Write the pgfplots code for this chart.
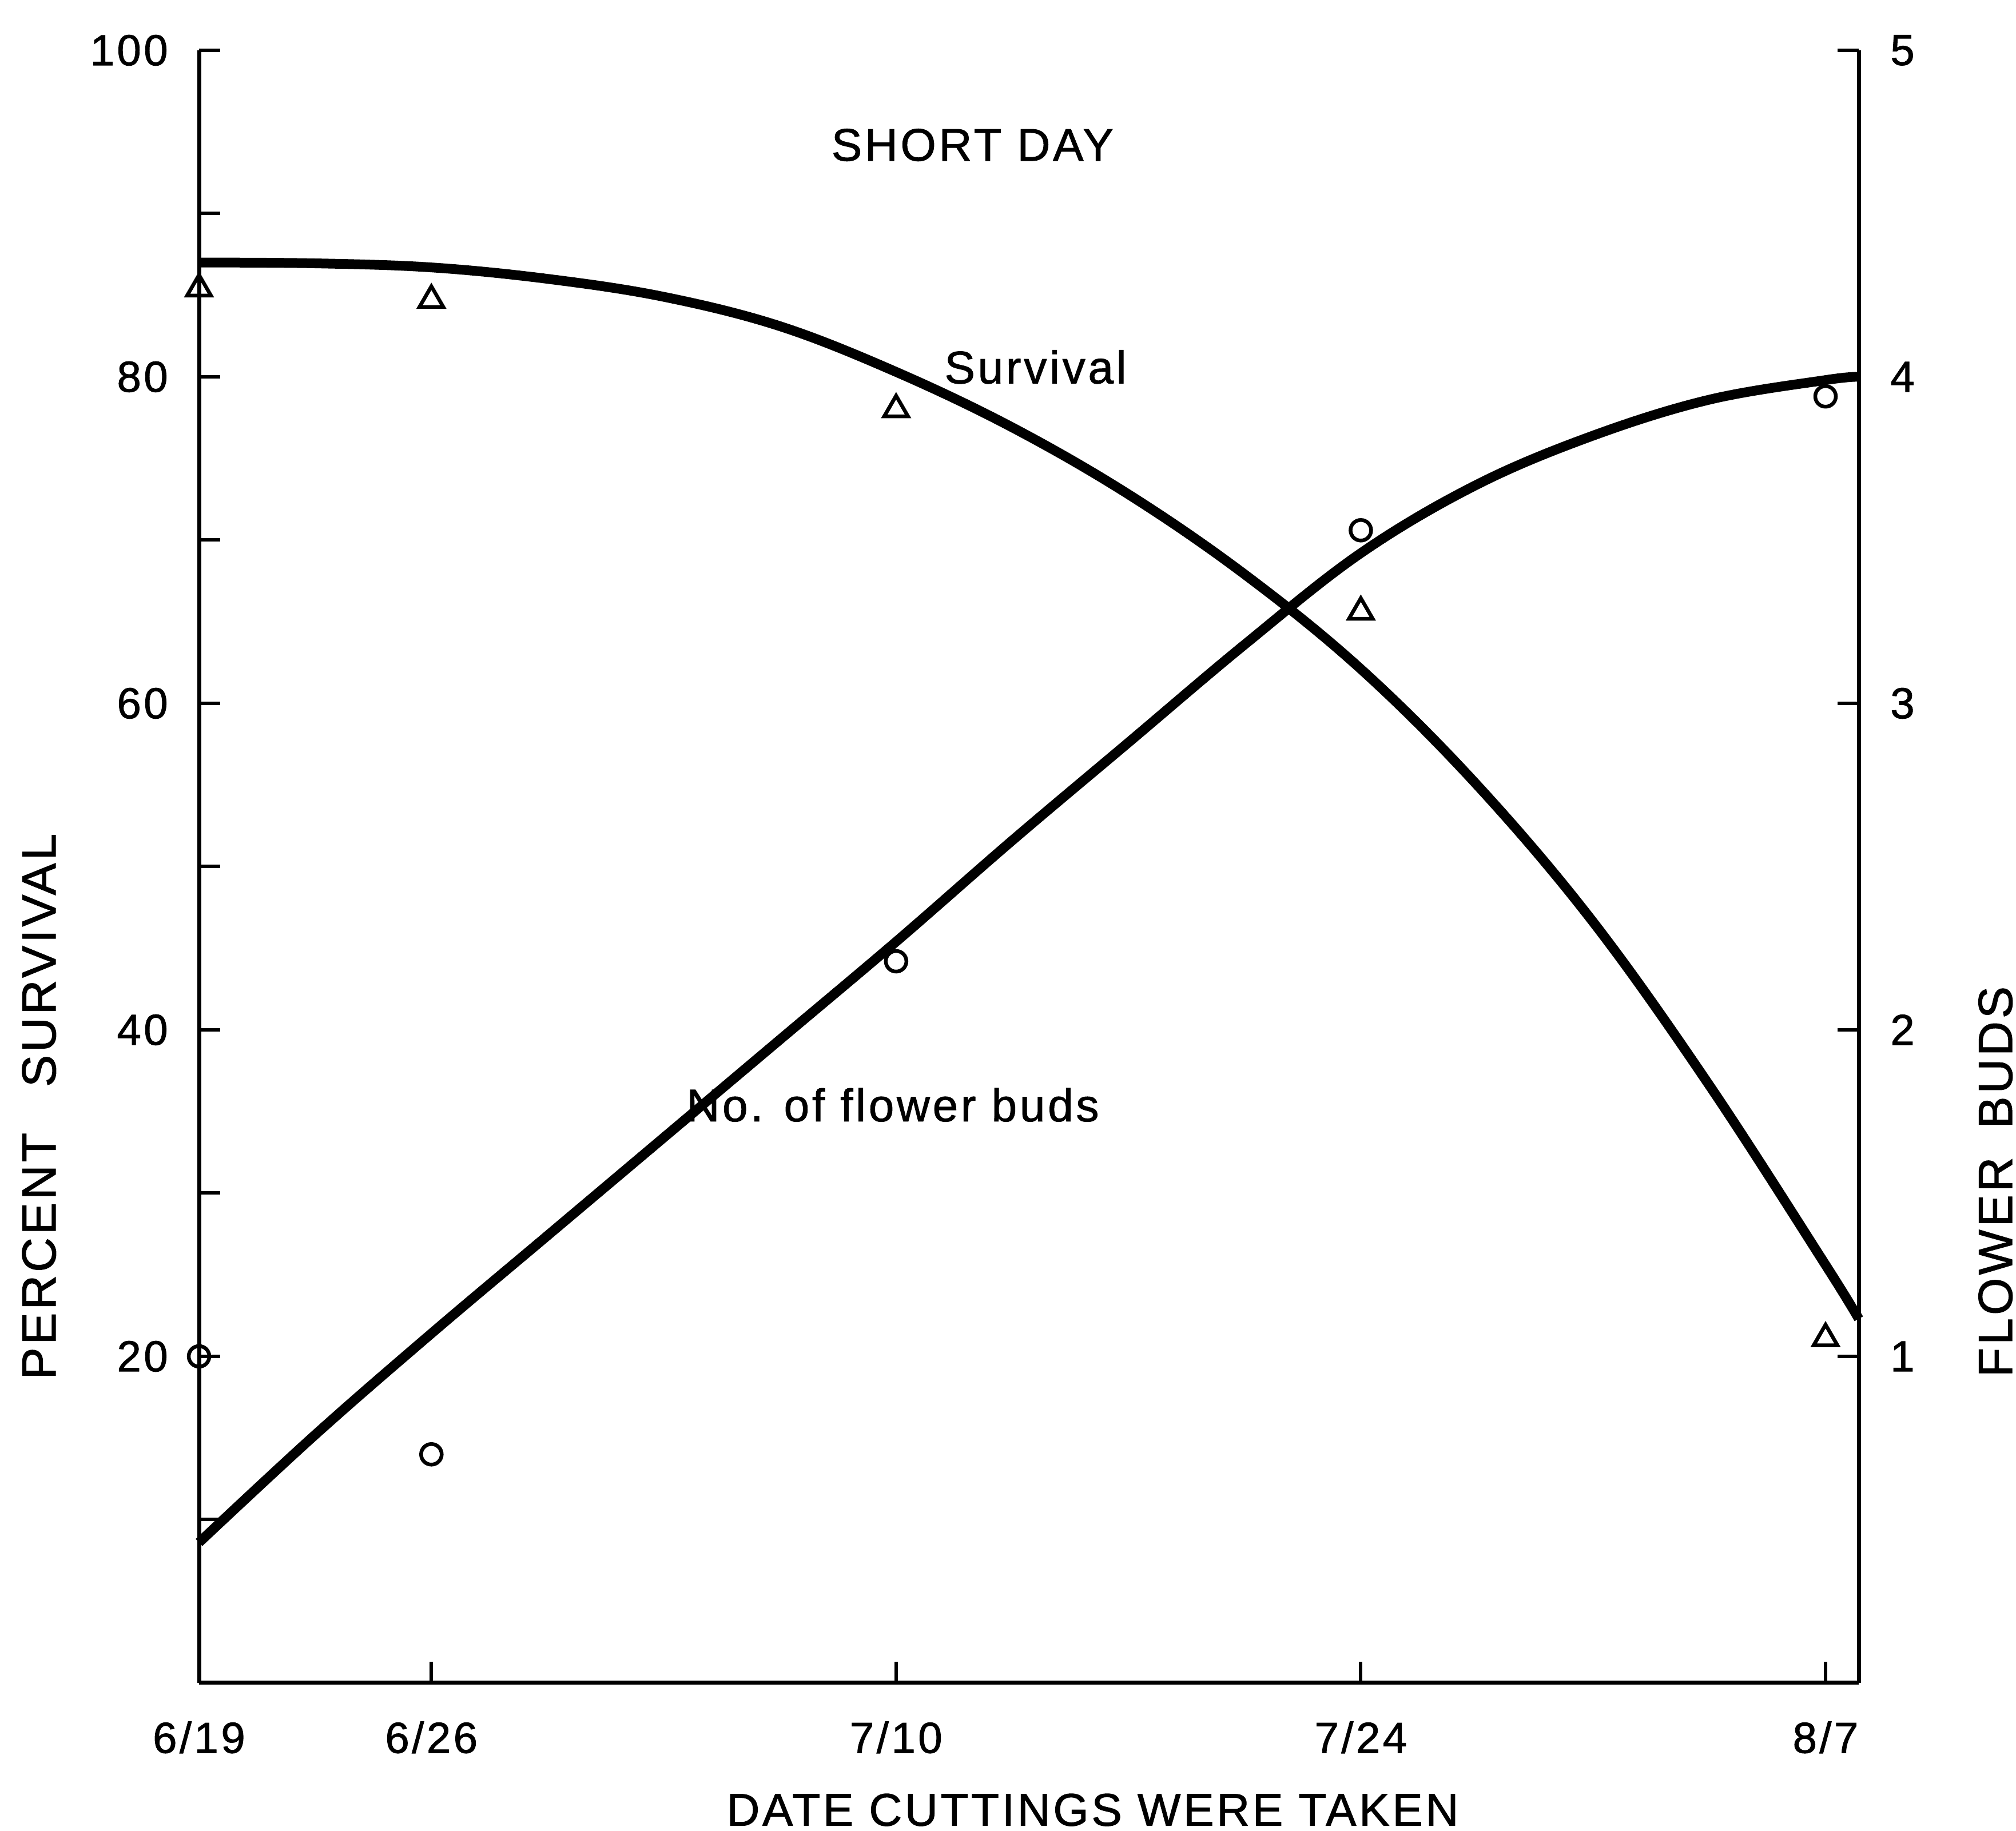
\documentclass[border=0pt]{standalone}
\usepackage{fontspec}
\setmainfont{Liberation Sans}[LetterSpace=6, FakeBold=1.2]
\usepackage{pgfplots}
\usepackage{pgfplotstable}
\pgfplotsset{compat=1.18}

% Survival observations (percent, left axis); day 0 = 6/19
\pgfplotstableread{
day val
0   85.4
7   84.7
21  78.0
35  65.6
49  21.1
}\survpts
% Flower buds observations (right axis)
\pgfplotstableread{
day val
0   1.00
7   0.70
21  2.21
35  3.53
49  3.94
}\budpts
% Fitted survival curve
\pgfplotstableread{
day val
0    87.0
3.5  86.95
7    86.7
10.5 86.0
14   84.9
17.5 83.1
21   80.3
24.5 76.9
28   72.8
31.5 67.9
35   62.1
38.5 55.0
42   46.6
45.5 36.6
49   25.6
50   22.3
}\survcurve
% Fitted flower buds curve
\pgfplotstableread{
day val
0    0.43
3.5  0.76
7    1.07
10.5 1.37
14   1.67
17.5 1.97
21   2.27
24.5 2.58
28   2.88
31.5 3.18
35   3.46
38.5 3.67
42   3.82
45.5 3.93
49   3.99
50   4.00
}\budcurve

\begin{document}
\begin{tikzpicture}
\begin{axis}[
  scale only axis, width=290.2pt, height=285.5pt,
  at={(0,0)}, anchor=south west,
  xmin=0, xmax=50, ymin=0, ymax=100,
  axis x line*=bottom, axis y line*=left,
  axis line style={line width=0.7pt, -},
  xtick pos=lower, ytick pos=left,
  tick align=inside, major tick length=3.7pt,
  tick style={line width=0.6pt, black},
  xtick={0,7,21,35,49}, xticklabels={6/19,6/26,7/10,7/24,8/7},
  ytick={10,20,...,100}, yticklabels={,20,,40,,60,,80,,100},
  x tick label style={font=\fontsize{7.6}{8}\selectfont, yshift=-3.2pt},
  y tick label style={font=\fontsize{7.6}{8}\selectfont, xshift=-1.9pt},
  clip=false,
]
\addplot[black, line width=1.7pt, smooth, tension=0.6] table[x=day, y=val] {\survcurve};
\addplot[only marks, mark=triangle, mark size=2.4pt, mark options={black, line width=0.65pt}] table[x=day, y=val] {\survpts};
\node[font=\fontsize{8}{9}\selectfont] at (axis cs:23.3,94.2) {SHORT DAY};
\node[font=\fontsize{8}{9}\selectfont] at (axis cs:25.2,80.6) {Survival};
\node[font=\fontsize{8}{9}\selectfont] at (axis cs:20.9,35.4) {No. of flower buds};
\node[font=\fontsize{8.4}{9}\selectfont, rotate=90] at (axis cs:-4.82,35.3) {PERCENT\hspace{8pt}SURVIVAL};
\node[font=\fontsize{8.4}{9}\selectfont, rotate=90] at (axis cs:54.12,30.7) {FLOWER\hspace{5pt}BUDS};
\node[font=\fontsize{8}{9}\selectfont] at (axis cs:26.92,-7.78) {DATE CUTTINGS WERE TAKEN};
\end{axis}
\begin{axis}[
  scale only axis, width=290.2pt, height=285.5pt,
  at={(0,0)}, anchor=south west,
  xmin=0, xmax=50, ymin=0, ymax=5,
  axis x line=none, axis y line*=right,
  axis line style={line width=0.7pt, -},
  ytick pos=right,
  tick align=inside, major tick length=3.7pt,
  tick style={line width=0.6pt, black},
  ytick={1,2,3,4,5}, yticklabels={1,2,3,4,5},
  y tick label style={font=\fontsize{7.6}{8}\selectfont, xshift=2pt},
  clip=false,
]
\addplot[black, line width=1.7pt, smooth, tension=0.6] table[x=day, y=val] {\budcurve};
\addplot[only marks, mark=o, mark size=1.8pt, mark options={black, line width=0.65pt}] table[x=day, y=val] {\budpts};
\end{axis}
\pgfresetboundingbox
\path[use as bounding box] (-34.8pt,-25.9pt) rectangle (317.7pt,294.3pt);
\end{tikzpicture}
\end{document}
